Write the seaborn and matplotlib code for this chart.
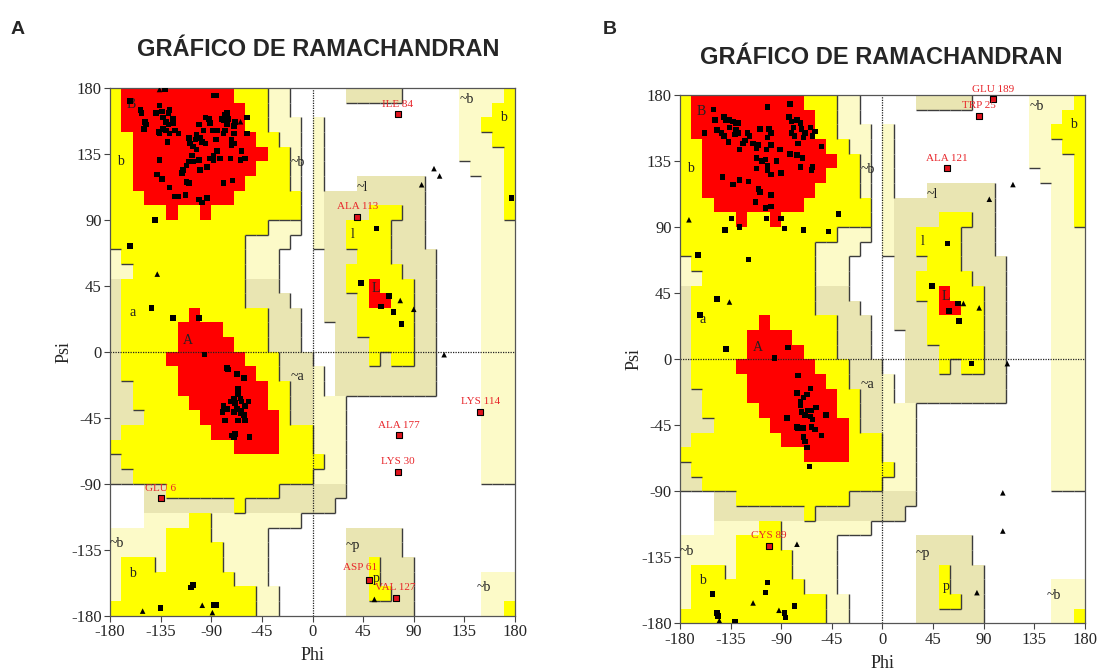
import numpy as np
import pandas as pd
import matplotlib
matplotlib.use("Agg")
import matplotlib.pyplot as plt
import seaborn as sns
from matplotlib.colors import ListedColormap
from matplotlib.collections import LineCollection

# ---------------------------------------------------------------------------
# Ramachandran region map, 10-degree cells.  One run-length row per psi band,
# from psi 180 (top) down to psi -180; columns run phi -180 -> 180.
#   .  disallowed   p / t  generously allowed   Y  allowed   R  most favoured
# ---------------------------------------------------------------------------
REGION_ROWS = [
    "Y1 R10 Y3 p2 .5 t5 .5 p4 Y1",
    "Y1 R11 Y2 p2 .15 p3 Y2",
    "Y1 R11 Y2 p3 .1 p1 .12 p2 Y3",
    "Y2 R11 Y2 p2 .1 p1 .12 p3 Y2",
    "Y2 R12 Y2 p1 .1 p1 .12 p4 Y1",
    "Y2 R11 Y3 p1 .1 p1 .13 p3 Y1",
    "Y2 R10 Y4 p1 .1 p1 .3 t6 .5 p2 Y1",
    "Y3 R8 Y6 .1 p1 t9 .5 p2 Y1",
    "Y5 R1 Y2 R1 Y8 .1 p1 t4 Y3 t2 .5 p2 Y1",
    "Y14 p3 .1 p1 t2 Y4 t3 .5 p3",
    "Y12 p4 .2 p1 t2 Y4 t3 .5 p3",
    "p1 Y11 p3 .4 t3 Y3 t4 .4 p3",
    "p2 Y10 p3 .4 t2 Y5 t3 .4 p3",
    "t1 Y11 t3 .4 t2 Y2 R1 Y3 t2 .4 p3",
    "t1 Y11 t4 .3 t3 Y1 R2 Y2 t2 .4 p3",
    "t1 Y6 R1 Y6 t3 .2 t3 Y5 t2 .4 p3",
    "t1 Y5 R4 Y4 t3 .3 t2 Y5 t2 .4 p3",
    "t1 Y5 R5 Y3 t3 .3 t3 Y4 t2 .4 p3",
    "t1 Y4 R7 Y3 t3 .2 t3 Y1 t1 Y2 t2 .4 p3",
    "t1 Y5 R7 Y2 t3 p1 .1 t9 .4 p3",
    "t2 Y4 R8 Y2 t2 p1 .1 t9 .4 p3",
    "t2 Y5 R7 Y2 t2 p3 .12 p3",
    "t3 Y5 R7 Y1 t2 p3 .12 p3",
    "t1 Y8 R6 Y3 p3 .12 p3",
    "Y11 R4 Y3 p3 .12 p3",
    "t1 Y18 p2 .12 p3",
    "t2 Y16 p3 .12 p3",
    ".3 t2 Y10 t6 .15",
    ".3 t8 Y1 t8 .16",
    ".3 p4 Y2 p8 .19",
    "p5 Y4 p5 .7 t5 .10",
    "p5 Y5 p4 .7 t5 .10",
    "p1 Y3 p1 Y5 p4 .7 t2 Y1 t3 .9",
    "p1 Y10 p3 .7 t2 Y1 t3 .6 p3",
    "p1 Y12 p2 .6 t2 Y2 t2 .6 p3",
    "Y13 p2 .6 t6 .6 p2 Y1",
]

REGION_CODES = {".": 0, "p": 1, "t": 2, "Y": 3, "R": 4}
REGION_COLORS = ["#FFFFFF", "#FCFAC8", "#E9E5B2", "#FFFF00", "#FF0000"]

# Region names written on the map (phi, psi)
region_text = ["B", "b", "A", "a", "L", "l", "~b", "~a", "~l", "~p", "p",
               "~b", "b", "~b", "b", "~b"]
region_phi = [-161, -171, -111, -160, 56, 36, -13, -13, 44, 36, 57,
              137, 170, -174, -160, 152]
region_psi = [169, 130, 8, 27, 43, 80, 129, -17, 112, -132, -155,
              172, 160, -131, -151, -161]

# ---------------------------------------------------------------------------
# Panel A residues
# ---------------------------------------------------------------------------
a_res_phi = [-131, -162, -153, -152, -149, -148, -150, -139, -136, -134, -133, -130,
             -128, -127, -124, -122, -119, -136, -137, -129, -128, -124, -127, -133,
             -130, -136, -138, -134, -127, -122, -119, -113, -110, -109, -107, -106,
             -104, -103, -103, -101, -100, -106, -110, -112, -115, -116, -110, -112,
             -101, -98, -94, -95, -92, -88, -86, -86, -85, -85, -88, -82, -81, -78,
             -79, -76, -75, -76, -78, -79, -72, -70, -70, -69, -70, -72, -73, -63,
             -64, -58, -58, -60, -71, -79, -88, -91, -89, -97, -98, -95, -100, -101,
             -94, -91, -140, -162,
             -143, -124, -101, -96, -76, -75, -67, -61, -66, -66, -70, -64, -63, -73,
             -69, -60, -57, -79, -80, -67, -63, -76, -61, -60, -66, -78, -72, -70,
             -56, -69, -64, -70,
             57, 43, 68, 61, 72, 79, 177,
             -108, -106, -135, -88, -86]
a_res_psi = [179, 171, 165, 163, 157, 155, 152, 163, 168, 164, 160, 157,
             163, 165, 159, 151, 149, 149, 150, 143, 155, 156, 149, 152,
             151, 131, 121, 118, 112, 106, 106, 107, 146, 142, 134, 140,
             145, 148, 138, 131, 124, 130, 130, 127, 124, 122, 115, 116,
             104, 102, 105, 160, 159, 175, 175, 145, 151, 137, 134, 132, 159, 162,
             158, 163, 159, 155, 151, 149, 145, 142, 154, 157, 149, 141, 132, 137,
             131, 160, 149, 132, 117, 115, 131, 156, 151, 151, 143, 142, 146, 155,
             126, 132, 90, 72,
             30, 23, 23, -2, -11, -12, -15, -18, -25, -29, -32, -32, -34, -34,
             -35, -37, -34, -37, -41, -39, -40, -39, -43, -47, -47, -47, -57, -58,
             -58, -56, -42, -41,
             84, 47, 38, 31, 27, 19, 105,
             -161, -159, -175, -173, -173]
a_gly_phi = [-136, -64, -138, 78, 90, 97, 108, 113, 117, 55, -151, -98, -89]
a_gly_psi = [179, 157, 53, 35, 29, 114, 125, 120, -2, -169, -177, -173, -178]
a_out_name = ["ILE 84", "ALA 113", "LYS 114", "ALA 177", "LYS 30", "GLU 6",
              "ASP 61", "VAL 127"]
a_out_phi = [76, 40, 149, 77, 76, -135, 50, 74]
a_out_psi = [162, 92, -41, -57, -82, -100, -156, -168]

# ---------------------------------------------------------------------------
# Panel B residues
# ---------------------------------------------------------------------------
b_res_phi = [-150, -149, -158, -141, -139, -136, -133, -130, -128, -136, -130, -128,
             -131, -147, -143, -141, -137, -120, -118, -122, -124, -127, -115, -112,
             -110, -109, -102, -101, -99, -102, -99, -103, -112, -112, -107, -104,
             -102, -102, -99, -94, -90, -91, -82, -83, -81, -79, -81, -78, -75, -73,
             -76, -72, -70, -69, -64, -62, -60, -54, -82, -76, -71, -73, -62, -63,
             -142, -133, -127, -119, -110, -109, -99, -113, -104, -99, -134, -127,
             -103, -90, -87, -70, -48, -39, -140, -164, -119, -147,
             -162, -139, -96, -84, -75, -64, -67, -76, -70, -73, -59, -63, -72, -69,
             -64, -62, -85, -76, -75, -70, -63, -60, -70, -69, -67, -54, -50, -65,
             -73, -66,
             58, 44, 67, 59, 68, 79,
             -102, -104, -151, -78, -147, -146, -131, -87, -86]
b_res_psi = [170, 163, 154, 165, 163, 163, 162, 161, 161, 158, 156, 154,
             153, 156, 154, 152, 148, 154, 152, 149, 147, 143, 147, 144,
             146, 157, 172, 157, 154, 151, 146, 143, 137, 130, 135, 136,
             132, 129, 126, 135, 127, 143, 174, 165, 162, 158, 154, 152, 147, 161,
             163, 157, 151, 154, 158, 152, 155, 145, 140, 139, 137, 131, 131, 129,
             124, 119, 122, 121, 116, 114, 112, 107, 103, 104, 96, 90,
             96, 96, 89, 88, 87, 99, 88, 71, 68, 41,
             30, 7, 1, 8, -11, -20, -24, -23, -26, -29, -33, -35, -36, -38,
             -39, -41, -40, -46, -47, -47, -46, -48, -53, -56, -60, -52, -38, -73,
             -31, -35,
             79, 50, 38, 33, 26, -3,
             -152, -159, -160, -168, -173, -175, -179, -173, -176]
b_gly_phi = [-172, -136, 116, 95, 72, 86, 111, 107, 107, -76, -115, -92, 84, -145]
b_gly_psi = [95, 39, 119, 109, 38, 35, -3, -91, -117, -126, -166, -171, -159, -178]
b_out_name = ["GLU 189", "TRP 25", "ALA 121", "CYS 89"]
b_out_phi = [98, 86, 57, -101]
b_out_psi = [177, 166, 130, -127]

ticks = [-180, -135, -90, -45, 0, 45, 90, 135, 180]
title_text = "GRÁFICO DE RAMACHANDRAN"

# Label nudges (points) for crowded outlier names
LABEL_NUDGE = {"ASP 61": (-6, 6)}


def expand_row(spec):
    cells = []
    for tok in spec.split():
        cells += [REGION_CODES[tok[0]]] * int(tok[1:])
    return cells


grid = np.array([expand_row(r) for r in REGION_ROWS])   # row 0 = psi 170..180
edges = np.arange(-180, 181, 10)


def region_segments(codes):
    """Dark edges on the right / lower side of allowed and generous zones."""
    level = np.array([0, 1, 1, 2, 2])[codes]
    segs = []
    n_rows, n_cols = codes.shape
    for i in range(n_rows):
        top = 180 - 10 * i
        bot = top - 10
        for j in range(n_cols):
            lv = level[i, j]
            if lv == 0:
                continue
            left = -180 + 10 * j
            right = left + 10
            if j + 1 < n_cols and level[i, j + 1] < lv:
                segs.append([(right, bot), (right, top)])
            if i + 1 < n_rows and level[i + 1, j] < lv:
                segs.append([(left, bot), (right, bot)])
    return segs


sns.set_theme(style="white")
plt.rcParams["font.family"] = ["Liberation Serif", "DejaVu Serif"]

fig = plt.figure(figsize=(10.99, 6.71), dpi=100)
ax_a = fig.add_axes([0.1001, 0.0827, 0.3685, 0.7861])
ax_b = fig.add_axes([0.6187, 0.0708, 0.3685, 0.7876])

cmap = ListedColormap(REGION_COLORS)
segments = region_segments(grid)


def draw_panel(ax, res_phi, res_psi, gly_phi, gly_psi, out_name, out_phi, out_psi):
    ax.pcolormesh(edges, edges, grid[::-1], cmap=cmap, vmin=-0.5, vmax=4.5,
                  shading="flat", zorder=0)
    ax.add_collection(LineCollection(segments, colors="#3c3c3c", linewidths=1.0,
                                     zorder=1))
    ax.axhline(0, color="#222222", lw=0.9, ls=(0, (1, 1)), zorder=2)
    ax.axvline(0, color="#222222", lw=0.9, ls=(0, (1, 1)), zorder=2)

    for txt, x, y in zip(region_text, region_phi, region_psi):
        ax.text(x, y, txt, fontsize=10, ha="center", va="center",
                color="#222222", zorder=3)

    df = pd.DataFrame({
        "phi": res_phi + gly_phi,
        "psi": res_psi + gly_psi,
        "kind": ["res"] * len(res_phi) + ["gly"] * len(gly_phi),
    })
    sns.scatterplot(data=df, x="phi", y="psi", style="kind",
                    markers={"res": "s", "gly": "^"}, color="black", s=16,
                    linewidth=0, legend=False, ax=ax, zorder=5)
    sns.scatterplot(x=out_phi, y=out_psi, marker="s", color="#E0141E",
                    edgecolor="black", linewidth=0.8, s=18, legend=False,
                    ax=ax, zorder=6)
    for name, x, y in zip(out_name, out_phi, out_psi):
        ax.annotate(name, (x, y), xytext=LABEL_NUDGE.get(name, (0, 4)),
                    textcoords="offset points", ha="center", va="bottom",
                    fontsize=8, color="#E8262B", zorder=7,
                    annotation_clip=False)

    ax.set_xlim(-180, 180)
    ax.set_ylim(-180, 180)
    ax.set_xticks(ticks)
    ax.set_yticks(ticks)
    ax.set_xticklabels([str(t) for t in ticks])
    ax.set_yticklabels([str(t) for t in ticks])
    ax.tick_params(axis="both", which="major", direction="out", length=4,
                   width=0.8, color="#444444", labelsize=12, pad=2,
                   bottom=True, left=True)
    for sp in ax.spines.values():
        sp.set_color("#555555")
        sp.set_linewidth(0.9)
    ax.set_xlabel("")
    ax.set_ylabel("")
    ax.text(0.5, -0.075, "Phi", transform=ax.transAxes, ha="center",
            va="center", fontsize=13)
    ax.text(-0.113, 0.5, "Psi", transform=ax.transAxes, ha="center",
            va="center", rotation=90, fontsize=13)


draw_panel(ax_a, a_res_phi, a_res_psi, a_gly_phi, a_gly_psi,
           a_out_name, a_out_phi, a_out_psi)
draw_panel(ax_b, b_res_phi, b_res_psi, b_gly_phi, b_gly_psi,
           b_out_name, b_out_phi, b_out_psi)

title_font = dict(fontsize=17, fontweight="bold", ha="center", va="center",
                  family=["Liberation Sans", "DejaVu Sans"])
fig.text(318 / 1099, 1 - 50 / 671, title_text, **title_font)
fig.text(881 / 1099, 1 - 57 / 671, title_text, **title_font)
fig.text(18 / 1099, 1 - 30 / 671, "A", fontsize=14, fontweight="bold",
         ha="center", va="center", family=["Liberation Sans", "DejaVu Sans"])
fig.text(610 / 1099, 1 - 30 / 671, "B", fontsize=14, fontweight="bold",
         ha="center", va="center", family=["Liberation Sans", "DejaVu Sans"])

fig.savefig("out.png", dpi=100, facecolor="white")
